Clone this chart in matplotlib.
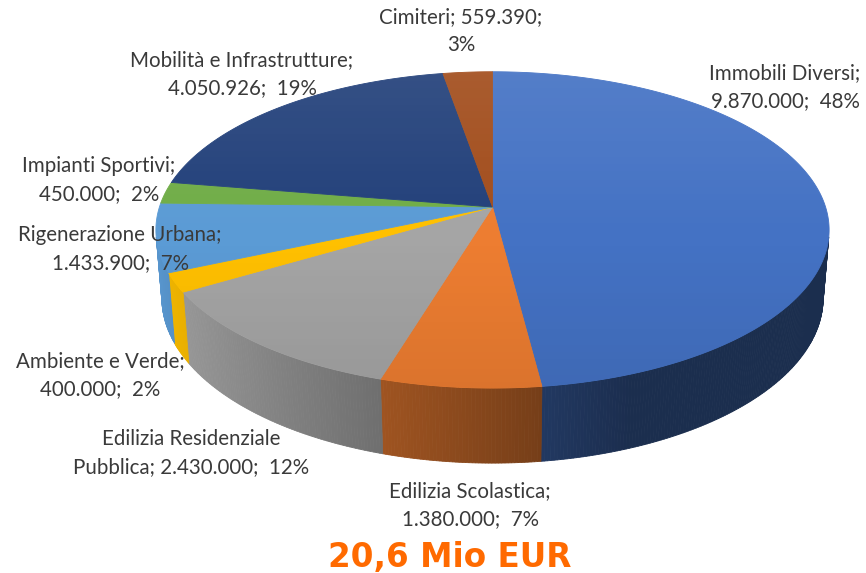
import numpy as np
import matplotlib
matplotlib.use("Agg")
import matplotlib.pyplot as plt
from matplotlib.patches import Polygon
from matplotlib.colors import to_rgb

# ---- data ----
names = ["Immobili Diversi", "Edilizia Scolastica", "Edilizia Residenziale Pubblica",
         "Ambiente e Verde", "Rigenerazione Urbana", "Impianti Sportivi",
         "Mobilità e Infrastrutture", "Cimiteri"]
values = [9870000, 1380000, 2430000, 400000, 1433900, 450000, 4050926, 559390]
pcts = [48, 7, 12, 2, 7, 2, 19, 3]
value_txt = ["9.870.000", "1.380.000", "2.430.000", "400.000", "1.433.900",
             "450.000", "4.050.926", "559.390"]
colors = ["#4472C4", "#ED7D31", "#A5A5A5", "#FFC000", "#5B9BD5", "#70AD47",
          "#22407A", "#A24D1C"]
title = "20,6 Mio EUR"

labels = [
    f"{names[0]};\n{value_txt[0]};  {pcts[0]}%",
    f"{names[1]};\n{value_txt[1]};  {pcts[1]}%",
    f"Edilizia Residenziale\nPubblica; {value_txt[2]};  {pcts[2]}%",
    f"{names[3]};\n{value_txt[3]};  {pcts[3]}%",
    f"{names[4]};\n{value_txt[4]};  {pcts[4]}%",
    f"{names[5]};\n{value_txt[5]};  {pcts[5]}%",
    f"{names[6]};\n{value_txt[6]};  {pcts[6]}%",
    f"{names[7]}; {value_txt[7]};\n{pcts[7]}%",
]
label_pos = [(785, 87), (470, 505), (191, 453), (100, 375), (120, 249),
             (99, 180), (242, 74), (461, 31)]

# ---- projection (3D pie with perspective) ----
W, H = 866, 573
cx, cy = 492.5, 207.0
elev = np.radians(27.7)
Dcam = 6.11
Fp = 2035.0
thick = 0.233

def proj(x, y, z):
    depth = Dcam + y * np.cos(elev) - z * np.sin(elev)
    up = y * np.sin(elev) + z * np.cos(elev)
    return cx + Fp * x / depth, cy - Fp * up / depth

fig = plt.figure(figsize=(W / 100, H / 100), dpi=100)
ax = fig.add_axes([0, 0, 1, 1])
ax.set_xlim(0, W)
ax.set_ylim(H, 0)
ax.axis("off")

vals = np.array(values, dtype=float)
fracs = vals / vals.sum()
bounds = np.concatenate([[0], np.cumsum(fracs)]) * 360.0

def shade(col, f):
    r, g, b = to_rgb(col)
    return (min(1, r * f), min(1, g * f), min(1, b * f))

# sides
step = 0.5
for i, col in enumerate(colors):
    a0, a1 = bounds[i], bounds[i + 1]
    n = max(2, int(np.ceil((a1 - a0) / step)))
    angs = np.linspace(a0, a1, n + 1)
    for t1, t2 in zip(angs[:-1], angs[1:]):
        tm = np.radians((t1 + t2) / 2)
        ny = np.cos(tm)
        if ny > -1 / (Dcam * np.cos(elev)):
            continue
        r1, r2 = np.radians(t1), np.radians(t2)
        pts = [proj(np.sin(r1), np.cos(r1), 0), proj(np.sin(r2), np.cos(r2), 0),
               proj(np.sin(r2), np.cos(r2), -thick), proj(np.sin(r1), np.cos(r1), -thick)]
        f = max(0.40, 0.55 + 0.42 * (-np.sin(tm)))
        c = shade(col, f)
        ax.add_patch(Polygon(pts, closed=True, facecolor=c, edgecolor=c, lw=0.6))

# top faces
apex = proj(0, 0, 0)
for i, col in enumerate(colors):
    a0, a1 = bounds[i], bounds[i + 1]
    angs = np.radians(np.linspace(a0, a1, max(3, int((a1 - a0) / 0.25))))
    pts = [apex] + [proj(np.sin(t), np.cos(t), 0) for t in angs]
    ax.add_patch(Polygon(pts, closed=True, facecolor=col, edgecolor=col, lw=0.6))

# subtle gradient overlay on top face
angs = np.radians(np.linspace(0, 360, 721))
ell = [proj(np.sin(t), np.cos(t), 0) for t in angs]
clip = Polygon(ell, closed=True, facecolor="none", edgecolor="none")
ax.add_patch(clip)
grad = np.zeros((100, 2, 4))
a = np.linspace(0.09, -0.08, 100)
for k in range(100):
    if a[k] >= 0:
        grad[k, :, :3] = 1.0
        grad[k, :, 3] = a[k]
    else:
        grad[k, :, :3] = 0.0
        grad[k, :, 3] = -a[k]
im = ax.imshow(grad, extent=(150, 840, 395, 65), aspect="auto", zorder=2)
im.set_clip_path(clip)

# labels
for lab, (lx, ly) in zip(labels, label_pos):
    ax.text(lx, ly, lab, ha="center", va="center", multialignment="center",
            fontsize=14.8, family="Lato", color="#3a3a3a", linespacing=1.5, zorder=5)

ax.text(450, 567, title, ha="center", va="baseline", fontsize=23.5,
        family="DejaVu Sans", fontweight="bold", color="#FF6A00", zorder=5)

fig.savefig("out.png", dpi=100)
